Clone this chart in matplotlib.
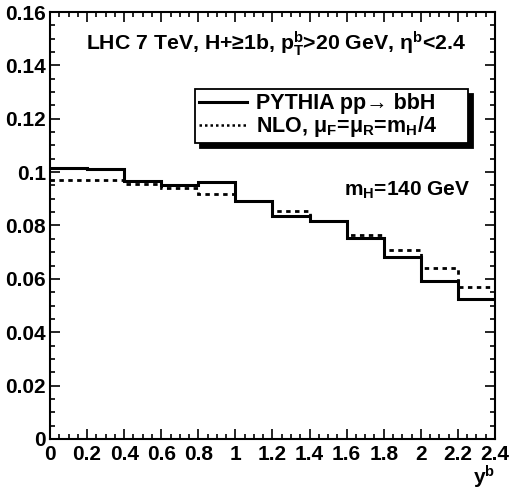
import numpy as np
import matplotlib
matplotlib.use("Agg")
import matplotlib.pyplot as plt
from matplotlib.lines import Line2D
from matplotlib.ticker import MultipleLocator

# bin edges in y^b and the two distributions
bin_edges = [0.0, 0.2, 0.4, 0.6, 0.8, 1.0, 1.2, 1.4, 1.6, 1.8, 2.0, 2.2, 2.4]
pythia = [0.1016, 0.1013, 0.0965, 0.0953, 0.0963, 0.0891,
          0.0834, 0.0816, 0.0754, 0.0682, 0.0591, 0.0524]
nlo = [0.0971, 0.0969, 0.0957, 0.0942, 0.0918, 0.0893,
       0.0855, 0.0818, 0.0765, 0.0710, 0.0641, 0.0571]

labels = ["PYTHIA pp\u2192 bbH", "NLO, \u03bc$_F$=\u03bc$_R$=m$_H$/4"]
title_text = "LHC 7 TeV, H+\u22651b, p$_T^b$>20 GeV, \u03b7$^b$<2.4"
mass_text = "m$_H$=140 GeV"

plt.rcParams['font.family'] = ['Liberation Sans', 'DejaVu Sans']
plt.rcParams['font.weight'] = 'bold'
plt.rcParams['mathtext.fontset'] = 'custom'
plt.rcParams['mathtext.rm'] = 'Liberation Sans:bold'
plt.rcParams['mathtext.it'] = 'Liberation Sans:bold'
plt.rcParams['mathtext.bf'] = 'Liberation Sans:bold'
plt.rcParams['mathtext.sf'] = 'Liberation Sans:bold'

fig = plt.figure(figsize=(5.09, 4.90), dpi=100)
ax = fig.add_axes([0.0982, 0.1041, 0.8743, 0.8714])

ax.stairs(pythia, bin_edges, baseline=None, color='black', linewidth=2.2)
ax.stairs(nlo, bin_edges, baseline=None, color='black', linewidth=2.0,
          linestyle=(0, (1.6, 1.6)))

ax.set_xlim(0, 2.4)
ax.set_ylim(0, 0.16)

ax.xaxis.set_major_locator(MultipleLocator(0.2))
ax.xaxis.set_minor_locator(MultipleLocator(0.05))
ax.yaxis.set_major_locator(MultipleLocator(0.02))
ax.yaxis.set_minor_locator(MultipleLocator(0.005))
ax.set_xticklabels([f"{v:g}" for v in ax.get_xticks()])
ax.set_yticklabels([f"{v:g}" for v in ax.get_yticks()])

ax.tick_params(which='both', direction='in', top=True, right=True,
               labelsize=15, width=1.2)
ax.tick_params(which='major', length=7)
ax.tick_params(which='minor', length=3.5)
ax.tick_params(axis='x', pad=4)
ax.tick_params(axis='y', pad=3)
for s in ax.spines.values():
    s.set_linewidth(1.5)

ax.text(0.508, 0.927, title_text, transform=ax.transAxes, ha='center',
        va='center', fontsize=15.3, fontweight='bold')
ax.text(0.944, 0.583, mass_text, transform=ax.transAxes, ha='right',
        va='center', fontsize=15, fontweight='bold')
ax.text(1.0, -0.058, "y$^b$", transform=ax.transAxes, ha='right',
        va='top', fontsize=15, fontweight='bold')

handles = [Line2D([], [], color='black', linewidth=2.2),
           Line2D([], [], color='black', linewidth=1.8, linestyle=(0, (1, 1.2)))]
leg = ax.legend(handles, labels, loc='upper left',
                bbox_to_anchor=(0.326, 0.700, 0.613, 0.120), mode='expand',
                fontsize=15.5, fancybox=False, edgecolor='black', framealpha=1,
                handlelength=2.2, handletextpad=0.45, borderpad=0.2,
                labelspacing=0.0, borderaxespad=0,
                shadow={'ox': 3.5, 'oy': -3.5, 'color': 'black', 'alpha': 1})
leg.get_frame().set_linewidth(1.3)

fig.savefig("out.png", dpi=100)
